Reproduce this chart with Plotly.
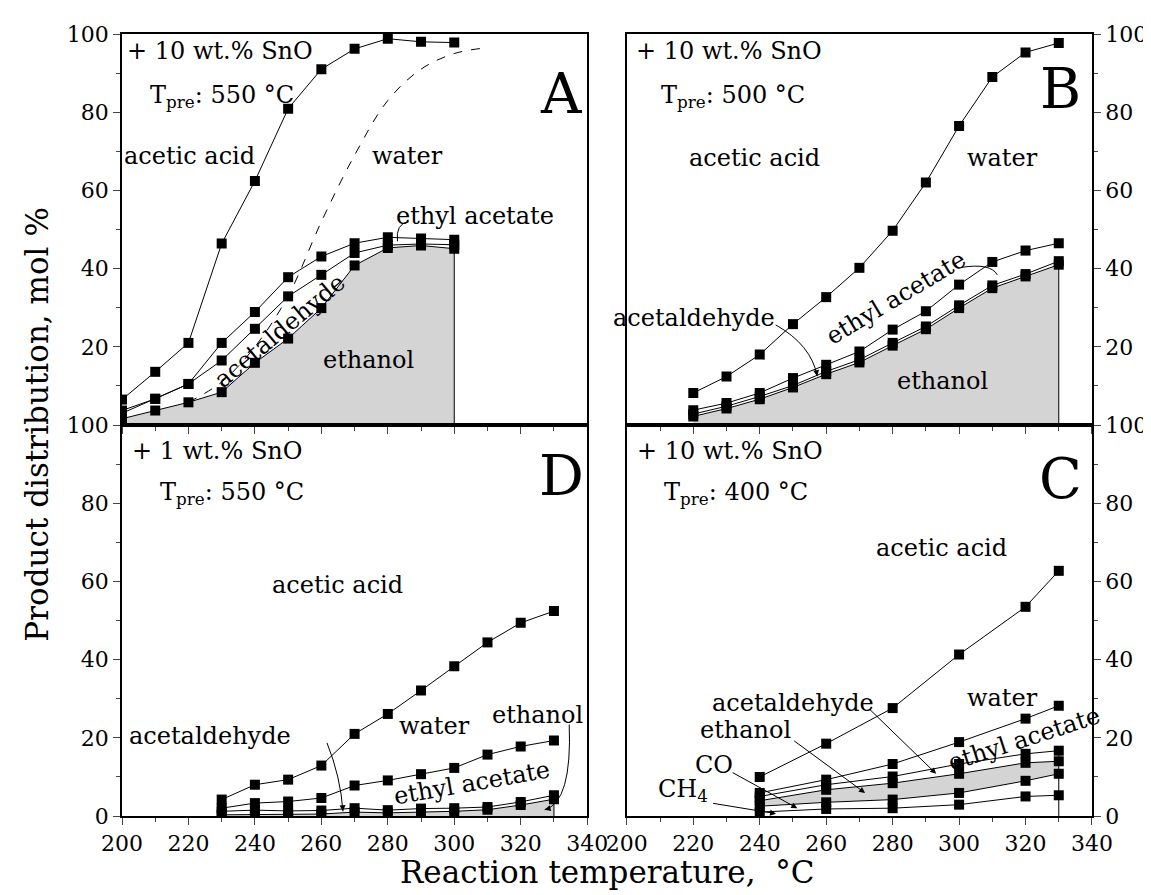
import plotly.graph_objects as go
from plotly.subplots import make_subplots

FONT = "DejaVu Serif"

# ---------------- data (cumulative boundaries, mol %) ----------------
# Panel A: +10 wt.% SnO, Tpre 550 C
A_x = [200, 210, 220, 230, 240, 250, 260, 270, 280, 290, 300]
A_ethanol = [1.6, 3.7, 5.8, 8.4, 15.9, 22.1, 29.9, 40.8, 45.3, 45.9, 45.1]
A_acetaldehyde = [3.0, 6.7, 10.5, 16.5, 24.6, 32.9, 38.4, 44.0, 46.0, 46.3, 46.1]
A_ethyl_acetate = [3.7, 6.7, 10.5, 21.0, 28.9, 37.8, 43.1, 46.5, 48.0, 47.7, 47.4]
A_water = [6.5, 13.6, 21.0, 46.4, 62.4, 80.9, 91.0, 96.2, 98.8, 98.0, 97.8]
A_dash_x = [220, 230, 240, 250, 260, 270, 280, 290, 300, 310]
A_dash_y = [5.8, 11.0, 20.0, 33.0, 52.0, 69.0, 83.0, 91.0, 95.0, 96.5]

# Panel B: +10 wt.% SnO, Tpre 500 C
B_x = [220, 230, 240, 250, 260, 270, 280, 290, 300, 310, 320, 330]
B_ethanol = [2.2, 4.2, 6.6, 9.6, 13.0, 16.0, 20.3, 24.5, 29.9, 35.0, 38.0, 41.0]
B_acetaldehyde = [2.8, 4.8, 7.3, 10.1, 13.7, 16.7, 21.0, 25.2, 30.6, 35.7, 38.6, 41.9]
B_ethyl_acetate = [3.8, 5.6, 8.2, 12.0, 15.4, 18.8, 24.4, 29.1, 35.9, 41.7, 44.6, 46.5]
B_water = [8.2, 12.4, 18.0, 25.8, 32.7, 40.2, 49.7, 62.0, 76.5, 89.0, 95.3, 97.7]

# Panel D: +1 wt.% SnO, Tpre 550 C
D_x = [230, 240, 250, 260, 270, 280, 290, 300, 310, 320, 330]
D_ethanol = [0.3, 0.4, 0.4, 0.5, 1.0, 0.8, 1.0, 1.2, 1.6, 2.8, 4.3]
D_acetaldehyde = [1.2, 1.5, 1.3, 1.4, 2.0, 1.5, 1.9, 2.0, 2.3, 3.6, 5.3]
D_ethyl_acetate = [2.0, 3.3, 3.7, 4.6, 7.8, 9.1, 10.7, 12.3, 15.7, 17.8, 19.3]
D_water = [4.2, 8.0, 9.3, 12.9, 21.0, 26.1, 32.1, 38.3, 44.4, 49.4, 52.4]

# Panel C: +10 wt.% SnO, Tpre 400 C
C_x = [240, 260, 280, 300, 320, 330]
C_CH4 = [1.0, 1.8, 2.0, 2.9, 5.0, 5.3]
C_CO = [2.5, 3.5, 4.2, 5.9, 9.0, 10.8]
C_ethanol = [3.9, 6.7, 8.4, 10.8, 13.6, 14.0]
C_acetaldehyde = [5.0, 8.0, 10.1, 13.3, 15.9, 16.7]
C_ethyl_acetate = [5.9, 9.3, 13.3, 18.9, 24.9, 28.2]
C_water = [10.0, 18.5, 27.6, 41.3, 53.5, 62.7]

x_ticks = [200, 220, 240, 260, 280, 300, 320, 340]
y_ticks = [0, 20, 40, 60, 80, 100]
y_labels_bottom = ["0", "20", "40", "60", "80", "100"]
y_labels_top = ["", "20", "40", "60", "80", "100"]

GRAY = "#d4d4d4"

fig = make_subplots(rows=2, cols=2, horizontal_spacing=40 / 978, vertical_spacing=0)

def line(x, y, row, col, fill=None):
    fig.add_trace(go.Scatter(
        x=x, y=y, mode="lines+markers",
        line=dict(color="black", width=1),
        marker=dict(symbol="square", size=10, color="black"),
        fill=fill, fillcolor=GRAY, showlegend=False, hoverinfo="skip"),
        row=row, col=col)

def drop(x, y, row, col):
    fig.add_trace(go.Scatter(x=[x[-1], x[-1]], y=[0, y[-1]], mode="lines",
                             line=dict(color="black", width=1), showlegend=False,
                             hoverinfo="skip"), row=row, col=col)

# Panel A
line(A_x, A_ethanol, 1, 1, fill="tozeroy")
drop(A_x, A_ethanol, 1, 1)
line(A_x, A_acetaldehyde, 1, 1)
line(A_x, A_ethyl_acetate, 1, 1)
line(A_x, A_water, 1, 1)
fig.add_trace(go.Scatter(x=A_dash_x, y=A_dash_y, mode="lines",
                         line=dict(color="black", width=1, dash="dash", shape="spline"),
                         showlegend=False, hoverinfo="skip"), row=1, col=1)

# Panel B
line(B_x, B_ethanol, 1, 2, fill="tozeroy")
drop(B_x, B_ethanol, 1, 2)
line(B_x, B_acetaldehyde, 1, 2)
line(B_x, B_ethyl_acetate, 1, 2)
line(B_x, B_water, 1, 2)

# Panel D
line(D_x, D_ethanol, 2, 1, fill="tozeroy")
drop(D_x, D_ethanol, 2, 1)
line(D_x, D_acetaldehyde, 2, 1)
line(D_x, D_ethyl_acetate, 2, 1)
line(D_x, D_water, 2, 1)

# Panel C
line(C_x, C_CH4, 2, 2)
line(C_x, C_CO, 2, 2)
line(C_x, C_ethanol, 2, 2, fill="tonexty")
drop(C_x, C_acetaldehyde, 2, 2)
line(C_x, C_acetaldehyde, 2, 2)
line(C_x, C_ethyl_acetate, 2, 2)
line(C_x, C_water, 2, 2)

tickfont = dict(family=FONT, size=22, color="black")
for i in range(1, 5):
    sfx = "" if i == 1 else str(i)
    fig.layout["xaxis" + sfx].update(
        range=[200, 340], tickvals=x_ticks, ticks="outside", ticklen=7, tickwidth=1,
        minor=dict(ticks="outside", dtick=10, tick0=200, ticklen=4, tickwidth=1),
        showline=True, linecolor="black", linewidth=1.5, mirror=True,
        showgrid=False, zeroline=False, tickfont=tickfont,
        showticklabels=(i >= 3))
    fig.layout["yaxis" + sfx].update(
        range=[0, 100], tickvals=y_ticks,
        ticktext=y_labels_top if i <= 2 else y_labels_bottom,
        ticks="outside", ticklen=7, tickwidth=1,
        minor=dict(ticks="outside", dtick=10, tick0=0, ticklen=4, tickwidth=1),
        showline=True, linecolor="black", linewidth=1.5, mirror=True,
        showgrid=False, zeroline=False, tickfont=tickfont,
        side="right" if i in (2, 4) else "left")

ann = []
def txt(ref, x, y, text, size=24, anchor="center", angle=0):
    ann.append(dict(xref="x" + ref, yref="y" + ref, x=x, y=y, text=text, showarrow=False,
                    xanchor=anchor, yanchor="middle", textangle=angle,
                    font=dict(family=FONT, size=size, color="black")))

def arrow(ref, tail, head):
    ann.append(dict(xref="x" + ref, yref="y" + ref, axref="x" + ref, ayref="y" + ref,
                    x=head[0], y=head[1], ax=tail[0], ay=tail[1], text="",
                    showarrow=True, arrowhead=2, arrowsize=1.2, arrowwidth=1,
                    arrowcolor="black", standoff=0, startstandoff=0))

shapes = []
def curved(ref, tail, ctrl, head):
    shapes.append(dict(type="path", xref="x" + ref, yref="y" + ref,
                       path=f"M {tail[0]},{tail[1]} Q {ctrl[0]},{ctrl[1]} {head[0]},{head[1]}",
                       line=dict(color="black", width=1)))
    t = 0.12
    back = (head[0] + t * (ctrl[0] - head[0]), head[1] + t * (ctrl[1] - head[1]))
    arrow(ref, back, head)

SUB = "T<sub>pre</sub>"
LET = 56
# Panel A (ref "")
txt("", 201, 95.6, "+ 10 wt.% SnO", anchor="left")
txt("", 207.8, 84.0, SUB + ": 550 °C", anchor="left")
txt("", 332, 84.7, "A", size=LET)
txt("", 220.4, 68.8, "acetic acid")
txt("", 285.8, 68.8, "water")
txt("", 306.3, 53.4, "ethyl acetate")
txt("", 247.5, 24.0, "acetaldehyde", angle=-40)
txt("", 274.3, 16.6, "ethanol")
curved("", (286.3, 52.0), (282.3, 51.5), (282.9, 47.0))

# Panel B (ref "2")
txt("2", 202.1, 95.6, "+ 10 wt.% SnO", anchor="left")
txt("2", 209.6, 84.0, SUB + ": 500 °C", anchor="left")
txt("2", 330.4, 86.0, "B", size=LET)
txt("2", 238.5, 68.3, "acetic acid")
txt("2", 313, 68.3, "water")
txt("2", 280.9, 32.5, "ethyl acetate", angle=-31)
txt("2", 220.3, 27.4, "acetaldehyde")
txt("2", 295.1, 11.2, "ethanol")
curved("2", (300.6, 40.3), (309.5, 41.5), (311.5, 38.4))
curved("2", (244.8, 25.6), (255.5, 20.5), (257.3, 12.5))

# Panel D (ref "3")
txt("3", 202.3, 93.4, "+ 1 wt.% SnO", anchor="left")
txt("3", 210.7, 82.6, SUB + ": 550 °C", anchor="left")
txt("3", 332.2, 87.0, "D", size=LET)
txt("3", 265, 59.2, "acetic acid")
txt("3", 226.4, 20.4, "acetaldehyde")
txt("3", 294.1, 22.9, "water")
txt("3", 325.2, 25.9, "ethanol")
txt("3", 305.3, 8.4, "ethyl acetate", angle=-10)
curved("3", (261.7, 18.7), (265.8, 10.0), (266.5, 1.2))
curved("3", (334.6, 23.4), (335.5, 3.5), (327.2, 1.6))

# Panel C (ref "4")
txt("4", 202.6, 93.3, "+ 10 wt.% SnO", anchor="left")
txt("4", 210.5, 82.6, SUB + ": 400 °C", anchor="left")
txt("4", 330.4, 86.4, "C", size=LET)
txt("4", 294.6, 68.5, "acetic acid")
txt("4", 313.0, 30.2, "water")
txt("4", 319.5, 19.8, "ethyl acetate", angle=-18)
txt("4", 250.1, 28.9, "acetaldehyde")
txt("4", 235.8, 22.1, "ethanol")
txt("4", 226.2, 13.1, "CO")
txt("4", 217.0, 6.4, "CH<sub>4</sub>")
arrow("4", (272.7, 27.6), (293.1, 10.8))
arrow("4", (249.9, 19.5), (271.7, 5.9))
arrow("4", (231.4, 11.3), (251.3, 2.0))
arrow("4", (225.5, 3.3), (244.9, 0.6))

# shared axis titles
ann.append(dict(xref="paper", yref="paper", x=0.5, y=-0.071, yanchor="middle",
                text="Reaction temperature,  °C", showarrow=False,
                font=dict(family=FONT, size=31, color="black")))
ann.append(dict(xref="paper", yref="paper", x=-0.088, y=0.5, xanchor="center",
                text="Product distribution, mol %", showarrow=False, textangle=-90,
                font=dict(family=FONT, size=31, color="black")))

fig.update_layout(width=1151, height=895, margin=dict(l=114, r=59, t=26, b=87),
                  plot_bgcolor="white", paper_bgcolor="white",
                  font=dict(family=FONT),
                  annotations=ann, shapes=shapes, showlegend=False)

fig.write_html("out.html")
